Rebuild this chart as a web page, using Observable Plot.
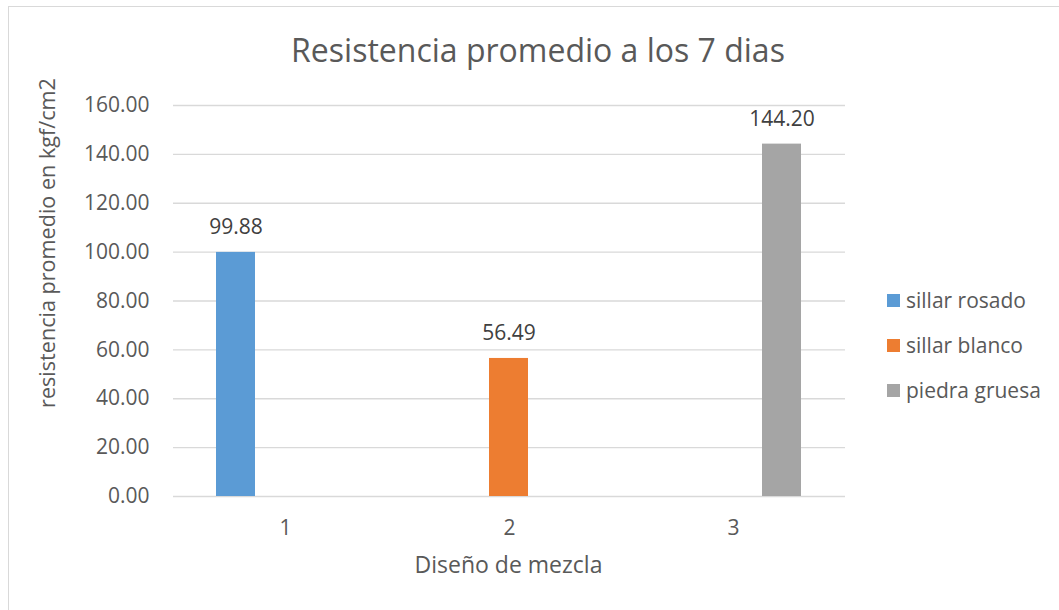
<!DOCTYPE html>
<html>
<head>
<meta charset="utf-8">
<script src="https://cdn.jsdelivr.net/npm/d3@7"></script>
<script src="https://cdn.jsdelivr.net/npm/@observablehq/plot@0.6"></script>
<style>
  html, body { margin: 0; padding: 0; background: #fff; overflow: hidden; }
  #wrap { position: relative; width: 1059px; height: 610px; overflow: hidden; font-family: "Open Sans", sans-serif; color: #595959; }
  #frame { position: absolute; left: 8px; top: 6px; width: 1100px; height: 700px; border: 1.5px solid #d9d9d9; box-sizing: border-box; }
  #chart { position: absolute; left: 0; top: 0; }
  .title { position: absolute; left: 0; width: 1076px; top: 28px; text-align: center; font-size: 32px; line-height: 44px; white-space: nowrap; }
  .xlabel { position: absolute; left: 172px; width: 673px; top: 548px; text-align: center; font-size: 23px; line-height: 32px; white-space: nowrap; }
  .ylabel { position: absolute; left: 47px; top: 243px; transform: translate(-50%, -50%) rotate(-90deg); font-size: 21.6px; line-height: 30px; white-space: nowrap; }
  .legend { position: absolute; left: 887px; top: 285px; font-size: 21px; }
  .legend .row { display: flex; align-items: center; white-space: nowrap; line-height: 30px; height: 30px; margin-bottom: 15px; }
  .legend .sw { width: 13px; height: 13px; margin-right: 6px; flex: none; }
</style>
</head>
<body>
<div id="wrap">
  <div id="frame"></div>
  <div id="chart"></div>
  <div class="title" id="title"></div>
  <div class="ylabel" id="ylabel"></div>
  <div class="xlabel" id="xlabel"></div>
  <div class="legend" id="legend"></div>
</div>
<script>
// ---- data ----
const titleText = "Resistencia promedio a los 7 dias";
const yTitle = "resistencia promedio en kgf/cm2";
const xTitle = "Diseño de mezcla";
const disenos = ["1", "2", "3"];
const seriesNames = ["sillar rosado", "sillar blanco", "piedra gruesa"];
const seriesColors = ["#5B9BD5", "#ED7D31", "#A5A5A5"];
const sillarRosado = [99.88, null, null];
const sillarBlanco = [null, 56.49, null];
const piedraGruesa = [null, null, 144.20];
const yTicks = [0, 20, 40, 60, 80, 100, 120, 140, 160];

const seriesValues = [sillarRosado, sillarBlanco, piedraGruesa];
const rows = [];
seriesNames.forEach((s, si) => {
  disenos.forEach((d, di) => {
    const v = seriesValues[si][di];
    if (v != null) rows.push({diseno: d, serie: s, valor: v});
  });
});

const chart = Plot.plot({
  width: 1059,
  height: 610,
  marginLeft: 172,
  marginRight: 214,
  marginTop: 105,
  marginBottom: 114,
  style: {fontFamily: "Open Sans, sans-serif", fontSize: "21px", color: "#595959", background: "transparent"},
  fx: {domain: disenos, padding: 0, label: null, tickSize: 0, tickPadding: 24, axis: "bottom"},
  x: {domain: seriesNames, axis: null, paddingInner: 0.2, paddingOuter: 0.843},
  y: {domain: [0, 160], ticks: yTicks, tickFormat: d3.format(".2f"), tickSize: 0, tickPadding: 24, label: null},
  color: {domain: seriesNames, range: seriesColors},
  marks: [
    Plot.ruleY(yTicks, {stroke: "#d9d9d9", strokeWidth: 1.3, strokeOpacity: 1}),
    Plot.barY(rows, {fx: "diseno", x: "serie", y: "valor", fill: "serie"}),
    Plot.text(rows, {fx: "diseno", x: "serie", y: "valor", text: d => d3.format(".2f")(d.valor), dy: -25, fill: "#404040", fontSize: 21})
  ]
});
document.getElementById("chart").appendChild(chart);

document.getElementById("title").textContent = titleText;
document.getElementById("ylabel").textContent = yTitle;
document.getElementById("xlabel").textContent = xTitle;
const leg = document.getElementById("legend");
seriesNames.forEach((s, i) => {
  const row = document.createElement("div");
  row.className = "row";
  const sw = document.createElement("span");
  sw.className = "sw";
  sw.style.background = seriesColors[i];
  const t = document.createElement("span");
  t.textContent = s;
  row.appendChild(sw);
  row.appendChild(t);
  leg.appendChild(row);
});
</script>
</body>
</html>
